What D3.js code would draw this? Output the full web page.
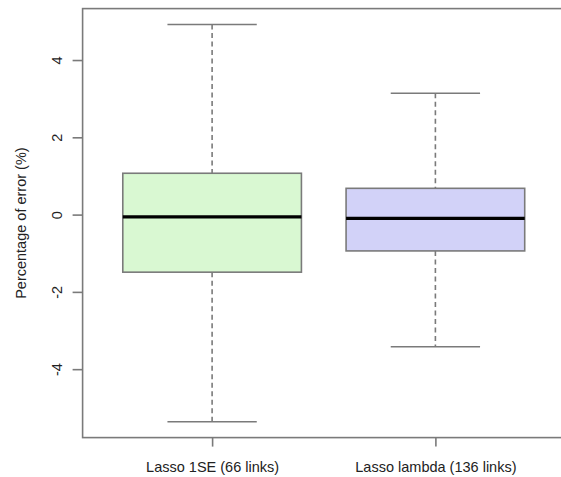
<!DOCTYPE html>
<html>
<head>
<meta charset="utf-8">
<script src="https://cdn.jsdelivr.net/npm/d3@7"></script>
<style>
  html, body { margin: 0; padding: 0; background: #fff; }
  svg { display: block; }
  text { font-family: "Liberation Sans", Arial, sans-serif; }
</style>
</head>
<body>
<div id="chart"></div>
<script>
// ---- data ----
const categories = ["Lasso 1SE (66 links)", "Lasso lambda (136 links)"];
const whiskerHigh = [4.92, 3.14];
const upperQuartile = [1.07, 0.68];
const medians = [-0.06, -0.10];
const lowerQuartile = [-1.49, -0.94];
const whiskerLow = [-5.36, -3.42];
const boxFills = ["#d9f8d2", "#d2d2f8"];
const yTicks = [-4, -2, 0, 2, 4];
const yTitle = "Percentage of error (%)";

// ---- layout ----
const W = 561, H = 477;
const svg = d3.select("#chart").append("svg").attr("width", W).attr("height", H);

const lo = d3.min(whiskerLow), hi = d3.max(whiskerHigh);
const pad = (hi - lo) * 0.04;
const y = d3.scaleLinear().domain([lo - pad, hi + pad]).range([437.6, 8.6]);
const x = d3.scaleLinear().domain([0.42, 2.58]).range([82.6, 564.9]);

const boxHalf = (x(1.4) - x(1));
const capHalf = (x(1.2) - x(1));
const frameColor = "#7a7a7a";
const textColor = "#222";

// frame
svg.append("rect")
  .attr("x", x(0.42)).attr("y", y(hi + pad))
  .attr("width", x(2.58) - x(0.42)).attr("height", y(lo - pad) - y(hi + pad))
  .attr("fill", "none").attr("stroke", frameColor).attr("stroke-width", 1.6);

// y axis
const yAxis = d3.axisLeft(y).tickValues(yTicks).tickSize(10).tickPadding(0).tickFormat(d3.format("d"));
const gy = svg.append("g").attr("transform", `translate(${x(0.42)},0)`).call(yAxis);
gy.select(".domain").remove();
gy.selectAll(".tick line").attr("stroke", frameColor).attr("stroke-width", 1.6);
gy.selectAll(".tick text")
  .attr("x", null).attr("dy", null)
  .attr("transform", "translate(-21,0) rotate(-90)")
  .attr("text-anchor", "middle")
  .attr("fill", textColor)
  .style("font-size", "14.5px")
  .text(d => d < 0 ? "-" + Math.abs(d) : String(d));

// x axis
const xAxis = d3.axisBottom(x).tickValues([1, 2]).tickSize(9).tickPadding(0).tickFormat((d, i) => categories[i]);
const gx = svg.append("g").attr("transform", `translate(0,${y(lo - pad)})`).call(xAxis);
gx.select(".domain").remove();
gx.selectAll(".tick line").attr("stroke", frameColor).attr("stroke-width", 1.6);
gx.selectAll(".tick text")
  .attr("y", 34).attr("dy", null)
  .attr("fill", textColor)
  .style("font-size", "14.5px");

// y title
svg.append("text")
  .attr("transform", `translate(26,${(y(hi + pad) + y(lo - pad)) / 2}) rotate(-90)`)
  .attr("text-anchor", "middle")
  .attr("fill", textColor)
  .style("font-size", "14.5px")
  .text(yTitle);

// boxes
const data = categories.map((c, i) => ({
  i: i + 1, hi: whiskerHigh[i], q3: upperQuartile[i], med: medians[i],
  q1: lowerQuartile[i], lo: whiskerLow[i], fill: boxFills[i]
}));

const g = svg.append("g").selectAll("g").data(data).join("g");

// whiskers (dashed)
g.append("line")
  .attr("x1", d => x(d.i)).attr("x2", d => x(d.i))
  .attr("y1", d => y(d.hi)).attr("y2", d => y(d.q3))
  .attr("stroke", frameColor).attr("stroke-width", 1.6).attr("stroke-dasharray", "5,3.5");
g.append("line")
  .attr("x1", d => x(d.i)).attr("x2", d => x(d.i))
  .attr("y1", d => y(d.q1)).attr("y2", d => y(d.lo))
  .attr("stroke", frameColor).attr("stroke-width", 1.6).attr("stroke-dasharray", "5,3.5");
// caps
g.append("line")
  .attr("x1", d => x(d.i) - capHalf).attr("x2", d => x(d.i) + capHalf)
  .attr("y1", d => y(d.hi)).attr("y2", d => y(d.hi))
  .attr("stroke", frameColor).attr("stroke-width", 1.6);
g.append("line")
  .attr("x1", d => x(d.i) - capHalf).attr("x2", d => x(d.i) + capHalf)
  .attr("y1", d => y(d.lo)).attr("y2", d => y(d.lo))
  .attr("stroke", frameColor).attr("stroke-width", 1.6);
// box
g.append("rect")
  .attr("x", d => x(d.i) - boxHalf).attr("width", 2 * boxHalf)
  .attr("y", d => y(d.q3)).attr("height", d => y(d.q1) - y(d.q3))
  .attr("fill", d => d.fill).attr("stroke", frameColor).attr("stroke-width", 1.6);
// median
g.append("line")
  .attr("x1", d => x(d.i) - boxHalf).attr("x2", d => x(d.i) + boxHalf)
  .attr("y1", d => y(d.med)).attr("y2", d => y(d.med))
  .attr("stroke", "#000").attr("stroke-width", 3.2);
</script>
</body>
</html>
